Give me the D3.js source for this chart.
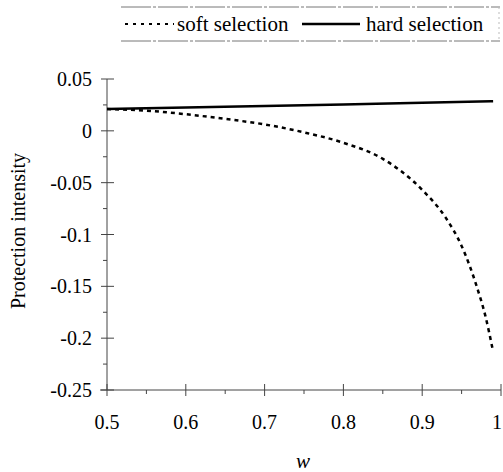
<!DOCTYPE html>
<html>
<head>
<meta charset="utf-8">
<script src="https://cdn.jsdelivr.net/npm/d3@7"></script>
<style>
  body { margin: 0; background: #fff; }
  svg text { font-family: "Liberation Serif", "DejaVu Serif", serif; fill: #000; }
</style>
</head>
<body>
<div id="chart"></div>
<script>
// data
var wSoft = [0.5, 0.55, 0.6, 0.65, 0.7, 0.75, 0.8, 0.85, 0.9, 0.93, 0.95, 0.97, 0.98, 0.99];
var softValues = [0.021, 0.0195, 0.016, 0.0115, 0.0062, -0.0015, -0.0115, -0.027, -0.057, -0.084, -0.111, -0.152, -0.178, -0.213];
var wHard = [0.5, 0.6, 0.7, 0.8, 0.9, 0.99];
var hardValues = [0.021, 0.0225, 0.024, 0.0255, 0.027, 0.0285];
var xTicks = [0.5, 0.6, 0.7, 0.8, 0.9, 1];
var yTicks = [0.05, 0, -0.05, -0.1, -0.15, -0.2, -0.25];
var seriesNames = ["soft selection", "hard selection"];

var width = 503, height = 472;

var svg = d3.select("#chart").append("svg")
    .attr("width", width)
    .attr("height", height)
    .style("font-family", "'Liberation Serif', serif");

var x = d3.scaleLinear().domain([0.5, 1]).range([107, 501]);
var y = d3.scaleLinear().domain([-0.25, 0.05]).range([390, 79]);

// plain hyphen, like the original print
var fmt = function(v) { return String(+v.toFixed(3)); };

var axisColor = "#444";

// y axis
svg.append("line")
    .attr("x1", x(0.5)).attr("x2", x(0.5))
    .attr("y1", y(0.05)).attr("y2", y(-0.25))
    .attr("stroke", axisColor).attr("stroke-width", 1);

yTicks.forEach(function(t) {
    svg.append("line")
        .attr("x1", x(0.5) - 6).attr("x2", x(0.5) + 7)
        .attr("y1", y(t)).attr("y2", y(t))
        .attr("stroke", axisColor).attr("stroke-width", 1);
    svg.append("text")
        .attr("x", 92).attr("y", y(t))
        .attr("dy", "0.35em")
        .attr("text-anchor", "end")
        .style("font-size", "20px")
        .text(fmt(t));
});
// minor y ticks
d3.range(-0.225, 0.05, 0.05).forEach(function(t) {
    svg.append("line")
        .attr("x1", x(0.5) - 4).attr("x2", x(0.5))
        .attr("y1", y(t)).attr("y2", y(t))
        .attr("stroke", axisColor).attr("stroke-width", 1);
});

// x axis
svg.append("line")
    .attr("x1", 100).attr("x2", x(1))
    .attr("y1", y(-0.25)).attr("y2", y(-0.25))
    .attr("stroke", axisColor).attr("stroke-width", 1);

xTicks.forEach(function(t) {
    svg.append("line")
        .attr("x1", x(t)).attr("x2", x(t))
        .attr("y1", y(-0.25) - 6).attr("y2", y(-0.25) + 6)
        .attr("stroke", axisColor).attr("stroke-width", 1);
    svg.append("text")
        .attr("x", t === 1 ? 502 : x(t)).attr("y", 429)
        .attr("text-anchor", t === 1 ? "end" : "middle")
        .style("font-size", "20px")
        .text(fmt(t));
});
d3.range(0.55, 1, 0.1).forEach(function(t) {
    svg.append("line")
        .attr("x1", x(t)).attr("x2", x(t))
        .attr("y1", y(-0.25)).attr("y2", y(-0.25) + 4)
        .attr("stroke", axisColor).attr("stroke-width", 1);
});

// axis titles
svg.append("text")
    .attr("transform", "translate(25,231) rotate(-90)")
    .attr("text-anchor", "middle")
    .style("font-size", "20px")
    .text("Protection intensity");

svg.append("text")
    .attr("x", 303).attr("y", 468)
    .attr("text-anchor", "middle")
    .style("font-size", "21px")
    .style("font-style", "italic")
    .text("w");

// lines
var line = d3.line()
    .x(function(d) { return x(d[0]); })
    .y(function(d) { return y(d[1]); })
    .curve(d3.curveMonotoneX);

svg.append("path")
    .datum(d3.zip(wHard, hardValues))
    .attr("d", line)
    .attr("fill", "none")
    .attr("stroke", "#000")
    .attr("stroke-width", 2.5);

svg.append("path")
    .datum(d3.zip(wSoft, softValues))
    .attr("d", line)
    .attr("fill", "none")
    .attr("stroke", "#000")
    .attr("stroke-width", 2.5)
    .attr("stroke-dasharray", "4,4");

// legend
var lg = svg.append("g");
lg.append("line").attr("x1", 121).attr("x2", 500).attr("y1", 7).attr("y2", 7)
    .attr("stroke", "#777").attr("stroke-width", 1).attr("stroke-dasharray", "30,2,3,2");
lg.append("line").attr("x1", 121).attr("x2", 500).attr("y1", 41).attr("y2", 41)
    .attr("stroke", "#777").attr("stroke-width", 1).attr("stroke-dasharray", "30,2,3,2");
lg.append("line").attr("x1", 499).attr("x2", 499).attr("y1", 7).attr("y2", 41)
    .attr("stroke", "#bbb").attr("stroke-width", 1).attr("stroke-dasharray", "2,3");

lg.append("line").attr("x1", 125).attr("x2", 174).attr("y1", 24).attr("y2", 24)
    .attr("stroke", "#000").attr("stroke-width", 2).attr("stroke-dasharray", "3,5");
lg.append("text").attr("x", 177).attr("y", 31)
    .style("font-size", "21px").text(seriesNames[0]);

lg.append("line").attr("x1", 302).attr("x2", 360).attr("y1", 24).attr("y2", 24)
    .attr("stroke", "#000").attr("stroke-width", 2.5);
lg.append("text").attr("x", 366).attr("y", 31)
    .style("font-size", "21px").text(seriesNames[1]);
</script>
</body>
</html>
